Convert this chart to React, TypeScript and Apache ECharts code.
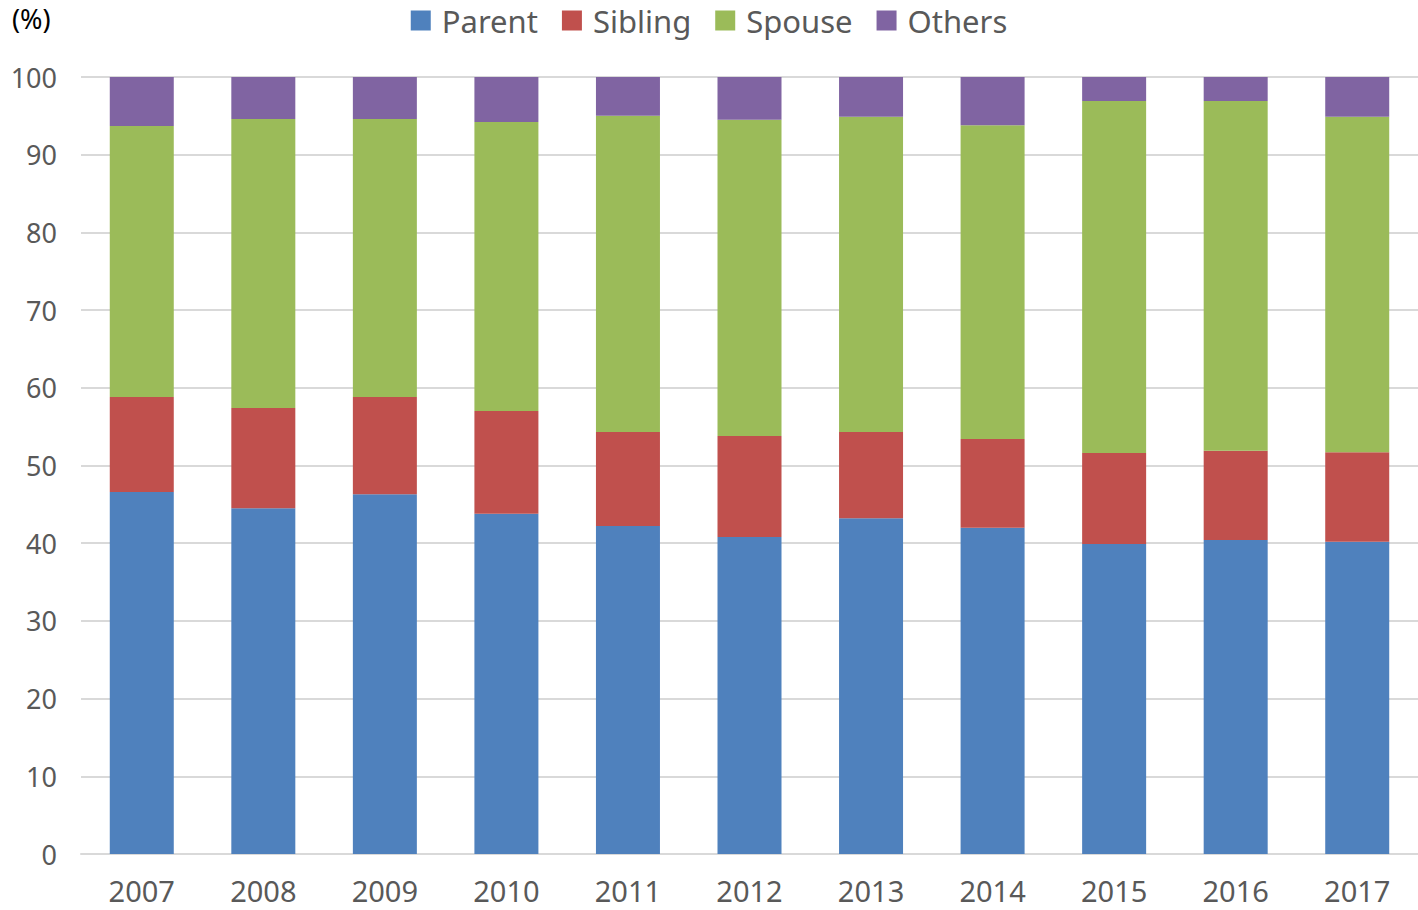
import React, { useEffect, useRef } from "react";
import * as echarts from "echarts";

const years = ["2007", "2008", "2009", "2010", "2011", "2012", "2013", "2014", "2015", "2016", "2017"];
const parent = [46.6, 44.5, 46.3, 43.8, 42.2, 40.8, 43.2, 42.0, 39.9, 40.4, 40.2];
const sibling = [12.2, 12.9, 12.5, 13.2, 12.1, 13.0, 11.1, 11.4, 11.7, 11.5, 11.5];
const spouse = [34.9, 37.2, 35.8, 37.2, 40.7, 40.7, 40.6, 40.4, 45.3, 45.0, 43.2];
const others = [6.3, 5.4, 5.4, 5.8, 5.0, 5.5, 5.1, 6.2, 3.1, 3.1, 5.1];

const names = ["Parent", "Sibling", "Spouse", "Others"];
const colors = ["#4f81bd", "#c0504d", "#9bbb59", "#8064a2"];
const values = [parent, sibling, spouse, others];

export default function App() {
  const ref = useRef<HTMLDivElement>(null);
  useEffect(() => {
    document.body.style.margin = "0";
    const chart = echarts.init(ref.current!, undefined, { renderer: "svg" });
    chart.setOption({
      animation: false,
      textStyle: { fontFamily: "Noto Sans" },
      legend: {
        top: 5,
        left: "center",
        padding: 0,
        itemWidth: 20,
        itemHeight: 20,
        itemGap: 24,
        itemStyle: { borderWidth: 0 },
        icon: "rect",
        textStyle: {
          fontSize: 31,
          color: "#595959",
          fontFamily: "Noto Sans",
          padding: [0, 0, 0, 6],
        },
        data: names,
      },
      graphic: [
        {
          type: "text",
          left: 12,
          top: 5,
          style: { text: "(%)", fontSize: 27, fill: "#000", fontFamily: "Noto Sans" },
        },
      ],
      grid: { left: 81, right: 0, top: 77, bottom: 56, containLabel: false },
      xAxis: {
        type: "category",
        data: years,
        axisLine: { lineStyle: { color: "#d9d9d9", width: 2 } },
        axisTick: { show: false },
        axisLabel: { fontSize: 29, color: "#595959", margin: 22 },
      },
      yAxis: {
        type: "value",
        min: 0,
        max: 100,
        interval: 10,
        axisLine: { show: false },
        axisTick: { show: false },
        splitLine: { lineStyle: { color: "#d9d9d9", width: 2 } },
        axisLabel: { fontSize: 27, color: "#595959", margin: 24 },
      },
      series: names.map((n, i) => ({
        name: n,
        type: "bar",
        stack: "total",
        barWidth: 64,
        data: values[i],
        itemStyle: { color: colors[i] },
      })),
    });
    return () => chart.dispose();
  }, []);
  return <div ref={ref} style={{ width: 1418, height: 910 }} />;
}
